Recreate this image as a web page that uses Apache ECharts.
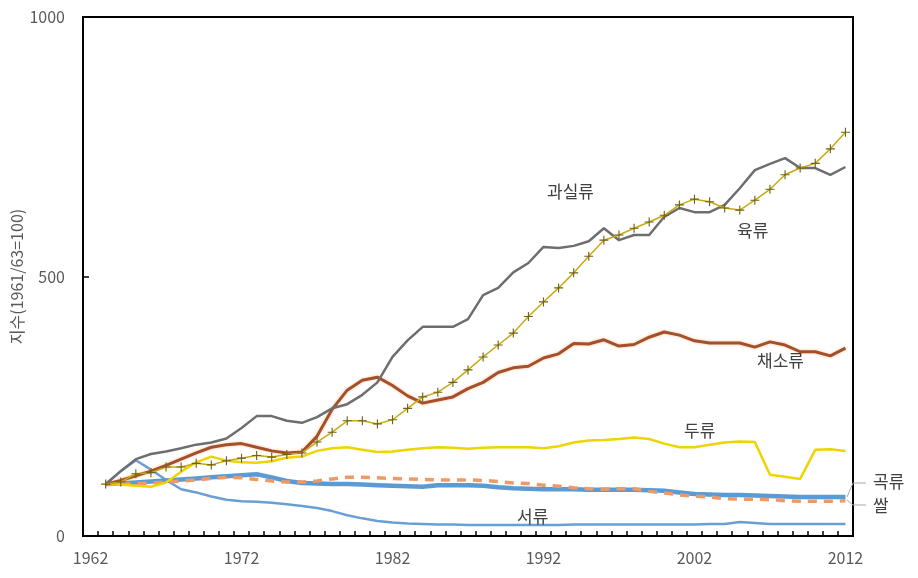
<!DOCTYPE html>
<html>
<head>
<meta charset="utf-8">
<script src="https://cdn.jsdelivr.net/npm/echarts@6/dist/echarts.min.js"></script>
<style>
html,body{margin:0;padding:0;background:#fff;}
#chart{width:918px;height:578px;}
</style>
</head>
<body>
<div id="chart"></div>
<script>
var years = ['1962','1963','1964','1965','1966','1967','1968','1969','1970','1971','1972','1973','1974','1975','1976','1977','1978','1979','1980','1981','1982','1983','1984','1985','1986','1987','1988','1989','1990','1991','1992','1993','1994','1995','1996','1997','1998','1999','2000','2001','2002','2003','2004','2005','2006','2007','2008','2009','2010','2011','2012'];

var fruits = [null,100,125,148,158,163,169,176,180,188,208,231,231,222,218,229,246,254,272,296,345,377,403,403,403,418,464,478,508,526,557,555,559,568,593,570,580,580,615,632,624,624,638,670,705,717,728,709,709,696,711];
var vegetables = [null,100,107,116,125,136,148,160,171,176,178,171,164,160,162,192,244,281,300,306,290,270,256,262,268,284,296,315,324,327,343,351,371,370,378,366,369,383,393,387,376,372,372,372,364,374,368,355,355,347,362];
var meat = [null,100,104,120,122,133,133,140,137,145,150,155,152,157,160,181,200,222,222,216,224,246,268,277,296,320,345,368,391,423,451,478,507,539,570,580,593,605,618,638,649,644,632,628,647,668,696,709,718,746,778];
var pulses = [null,100,99,97,95,103,124,142,153,145,142,141,144,151,153,164,169,171,166,162,163,166,169,171,170,168,170,171,171,171,169,173,180,184,185,187,190,187,178,171,171,176,180,182,181,118,114,110,166,167,164];
var cereals = [null,100,101,103,105,107,109,111,113,115,117,119,113,106,102,101,100,100,99,98,97,96,95,98,98,98,97,94,92,91,90,90,90,89,89,89,89,88,87,84,81,80,79,79,78,77,76,75,75,75,75];
var rice = [null,100,100,101,102,104,106,108,111,113,112,109,106,104,104,106,110,113,113,112,111,110,109,108,108,108,107,105,102,101,98,96,93,91,90,91,91,86,83,79,77,75,72,71,71,70,68,67,67,67,68];
var tubers = [null,100,125,146,128,108,90,84,76,70,67,66,64,61,58,54,48,40,34,29,26,24,23,22,22,21,21,21,21,21,21,21,22,22,22,22,22,22,22,22,22,23,23,27,25,23,23,23,23,23,23];

var yTicks = [0, 500, 1000];

var FONT = '"Noto Sans CJK KR", "DejaVu Sans", sans-serif';
var chart = echarts.init(document.getElementById('chart'), null, {renderer: 'canvas'});

function text(t, x, y, align) {
  return {type: 'text', left: x, top: y, z: 100,
    style: {text: t, fill: '#404040', font: '17px ' + FONT, textAlign: align || 'left'}};
}

var option = {
  backgroundColor: '#ffffff',
  animation: false,
  grid: {left: 83, right: 65, top: 17, bottom: 42, containLabel: false, outerBoundsMode: 'none',
    show: true, borderColor: '#000', borderWidth: 2, backgroundColor: 'transparent'},
  xAxis: {
    type: 'category', data: years, boundaryGap: true,
    axisLine: {lineStyle: {color: '#000', width: 2}},
    axisTick: {show: true, inside: true, interval: 0, length: 5, lineStyle: {color: '#000', width: 1.5}},
    axisLabel: {interval: 9, color: '#595959', fontSize: 16, fontFamily: FONT, margin: 14},
    splitLine: {show: false}
  },
  yAxis: {
    type: 'value', min: yTicks[0], max: yTicks[2], interval: 500,
    name: '지수(1961/63=100)', nameLocation: 'middle', nameGap: 58, nameRotate: 90, nameMoveOverlap: false,
    nameTextStyle: {color: '#595959', fontSize: 16, fontFamily: FONT},
    axisLine: {show: true, lineStyle: {color: '#000', width: 2}},
    axisTick: {show: true, inside: true, length: 6, lineStyle: {color: '#000', width: 1.5}},
    axisLabel: {color: '#595959', fontSize: 16, fontFamily: FONT, margin: 18,
      formatter: function (v) { return String(v); }},
    splitLine: {show: false}
  },
  series: [
    {name: '서류', type: 'line', data: tubers, symbol: 'none', lineStyle: {color: '#6a9fd6', width: 2.5}, itemStyle: {color: '#6a9fd6'}},
    {name: '곡류', type: 'line', data: cereals, symbol: 'none', lineStyle: {color: '#5b9bd5', width: 4.5}, itemStyle: {color: '#5b9bd5'}},
    {name: '쌀', type: 'line', data: rice, symbol: 'none', lineStyle: {color: '#ee9a68', width: 3.5, type: [9, 7]}, itemStyle: {color: '#ee9a68'}},
    {name: '두류', type: 'line', data: pulses, symbol: 'none', lineStyle: {color: '#eed400', width: 2.5}, itemStyle: {color: '#eed400'}},
    {name: '채소류', type: 'line', data: vegetables, symbol: 'none', lineStyle: {color: '#a5502a', width: 3, shadowColor: 'rgba(245,160,100,0.6)', shadowBlur: 3}, itemStyle: {color: '#a5502a'}},
    {name: '과실류', type: 'line', data: fruits, symbol: 'none', lineStyle: {color: '#6e6e6e', width: 2.5}, itemStyle: {color: '#6e6e6e'}},
    {name: '육류', type: 'line', data: meat, symbol: 'path://M3.5,0h1v3.5h3.5v1h-3.5v3.5h-1v-3.5h-3.5v-1h3.5z', symbolSize: 9, showSymbol: true,
      lineStyle: {color: '#c8aa10', width: 1.5}, itemStyle: {color: '#6f6212'}}
  ],
  graphic: [
    text('과실류', 547, 183),
    text('육류', 737, 222),
    text('채소류', 757, 352),
    text('두류', 684, 422),
    text('서류', 517, 508),
    text('곡류', 873, 473),
    text('쌀', 873, 497),
    {type: 'polyline', z: 100, shape: {points: [[847, 497], [853, 483], [866, 483]]}, style: {stroke: '#a6a6a6', lineWidth: 1, fill: null}},
    {type: 'polyline', z: 100, shape: {points: [[847, 500], [853, 505], [866, 505]]}, style: {stroke: '#a6a6a6', lineWidth: 1, fill: null}}
  ]
};
chart.setOption(option);
</script>
</body>
</html>
